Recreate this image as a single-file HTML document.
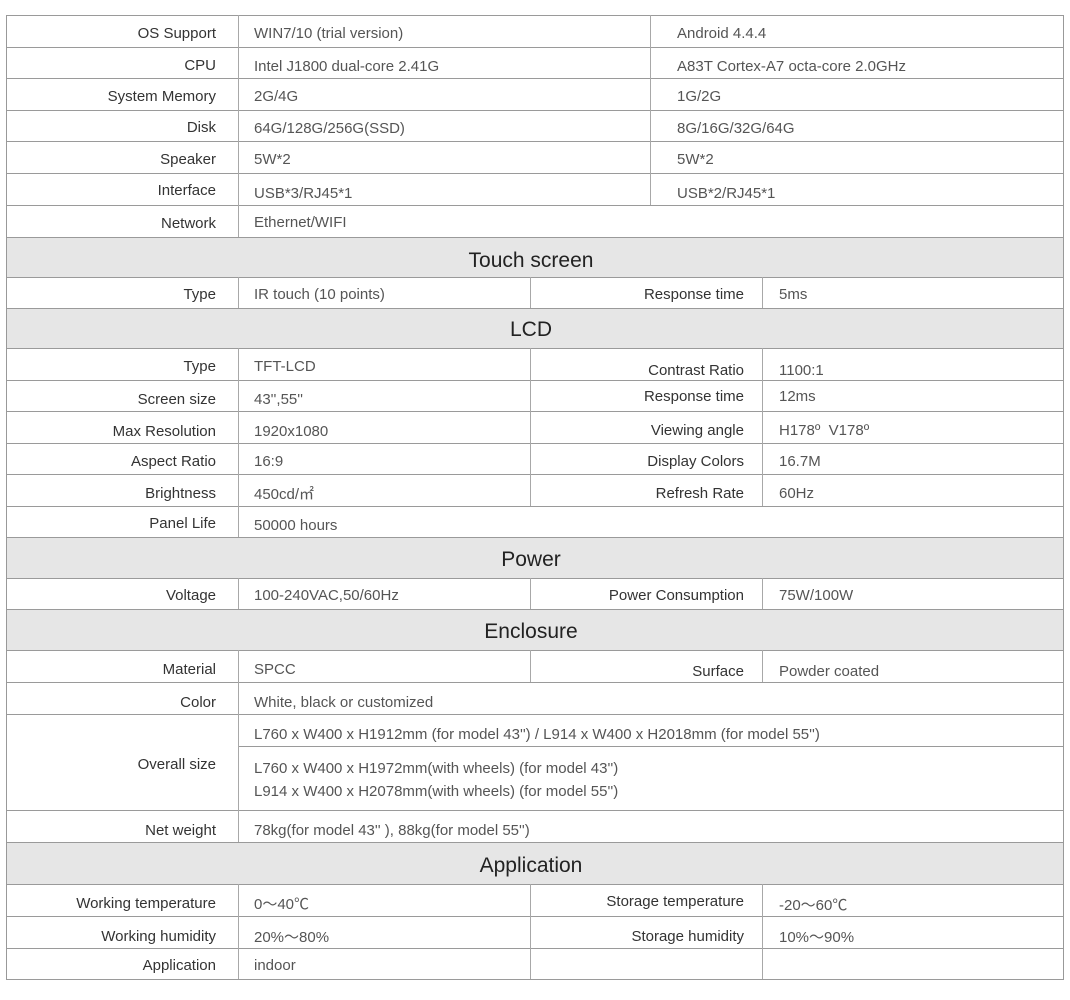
<!DOCTYPE html>
<html><head><meta charset="utf-8"><style>
body{margin:0;background:#fff;width:1070px;height:1000px;position:relative;overflow:hidden;font-family:"Liberation Sans","Noto Sans CJK SC",sans-serif}
.h{position:absolute;height:1px;background:#9a9a9a}
.v{position:absolute;width:1px;background:#a8a8a8}
.bg{position:absolute;left:6px;width:1057px;background:#e6e6e6}
.l,.r,.c{position:absolute;font-size:15px;white-space:nowrap;display:flex;align-items:center;box-sizing:border-box}
.l,.r{padding-top:4px}
.l{justify-content:flex-end;color:#333}
.r{color:#555}
.c{justify-content:center;color:#222;font-size:21px;left:6px;width:1050px;padding-top:3px}
</style></head><body>
<div class="bg" style="top:237px;height:40px"></div>
<div class="bg" style="top:308px;height:40px"></div>
<div class="bg" style="top:537px;height:41px"></div>
<div class="bg" style="top:609px;height:41px"></div>
<div class="bg" style="top:842px;height:42px"></div>

<div class="h" style="left:6px;width:1058px;top:15px"></div>
<div class="h" style="left:6px;width:1058px;top:47px"></div>
<div class="h" style="left:6px;width:1058px;top:78px"></div>
<div class="h" style="left:6px;width:1058px;top:110px"></div>
<div class="h" style="left:6px;width:1058px;top:141px"></div>
<div class="h" style="left:6px;width:1058px;top:173px"></div>
<div class="h" style="left:6px;width:1058px;top:205px"></div>
<div class="h" style="left:6px;width:1058px;top:237px"></div>
<div class="h" style="left:6px;width:1058px;top:277px"></div>
<div class="h" style="left:6px;width:1058px;top:308px"></div>
<div class="h" style="left:6px;width:1058px;top:348px"></div>
<div class="h" style="left:6px;width:1058px;top:380px"></div>
<div class="h" style="left:6px;width:1058px;top:411px"></div>
<div class="h" style="left:6px;width:1058px;top:443px"></div>
<div class="h" style="left:6px;width:1058px;top:474px"></div>
<div class="h" style="left:6px;width:1058px;top:506px"></div>
<div class="h" style="left:6px;width:1058px;top:537px"></div>
<div class="h" style="left:6px;width:1058px;top:578px"></div>
<div class="h" style="left:6px;width:1058px;top:609px"></div>
<div class="h" style="left:6px;width:1058px;top:650px"></div>
<div class="h" style="left:6px;width:1058px;top:682px"></div>
<div class="h" style="left:6px;width:1058px;top:714px"></div>
<div class="h" style="left:238px;width:826px;top:746px"></div>
<div class="h" style="left:6px;width:1058px;top:810px"></div>
<div class="h" style="left:6px;width:1058px;top:842px"></div>
<div class="h" style="left:6px;width:1058px;top:884px"></div>
<div class="h" style="left:6px;width:1058px;top:916px"></div>
<div class="h" style="left:6px;width:1058px;top:948px"></div>
<div class="h" style="left:6px;width:1058px;top:979px"></div>

<div class="v" style="left:6px;top:15px;height:965px;background:#999"></div>
<div class="v" style="left:1063px;top:15px;height:965px;background:#999"></div>
<div class="v" style="left:238px;top:15px;height:222px"></div>
<div class="v" style="left:238px;top:277px;height:31px"></div>
<div class="v" style="left:238px;top:348px;height:189px"></div>
<div class="v" style="left:238px;top:578px;height:31px"></div>
<div class="v" style="left:238px;top:650px;height:192px"></div>
<div class="v" style="left:238px;top:884px;height:95px"></div>
<div class="v" style="left:650px;top:15px;height:190px"></div>
<div class="v" style="left:530px;top:277px;height:31px"></div>
<div class="v" style="left:762px;top:277px;height:31px"></div>
<div class="v" style="left:530px;top:348px;height:158px"></div>
<div class="v" style="left:762px;top:348px;height:158px"></div>
<div class="v" style="left:530px;top:578px;height:31px"></div>
<div class="v" style="left:762px;top:578px;height:31px"></div>
<div class="v" style="left:530px;top:650px;height:32px"></div>
<div class="v" style="left:762px;top:650px;height:32px"></div>
<div class="v" style="left:530px;top:884px;height:95px"></div>
<div class="v" style="left:762px;top:884px;height:95px"></div>

<div class="l" style="left:6px;width:210px;top:15px;height:32px">OS Support</div>
<div class="r" style="left:254px;top:15px;height:32px">WIN7/10 (trial version)</div>
<div class="r" style="left:677px;top:15px;height:32px">Android 4.4.4</div>
<div class="l" style="left:6px;width:210px;top:47px;height:32px">CPU</div>
<div class="r" style="left:254px;top:48px;height:32px">Intel J1800 dual-core 2.41G</div>
<div class="r" style="left:677px;top:48px;height:32px">A83T Cortex-A7 octa-core 2.0GHz</div>
<div class="l" style="left:6px;width:210px;top:78px;height:32px">System Memory</div>
<div class="r" style="left:254px;top:78px;height:32px">2G/4G</div>
<div class="r" style="left:677px;top:78px;height:32px">1G/2G</div>
<div class="l" style="left:6px;width:210px;top:110px;height:31px">Disk</div>
<div class="r" style="left:254px;top:111px;height:31px">64G/128G/256G(SSD)</div>
<div class="r" style="left:677px;top:111px;height:31px">8G/16G/32G/64G</div>
<div class="l" style="left:6px;width:210px;top:141px;height:32px">Speaker</div>
<div class="r" style="left:254px;top:141px;height:32px">5W*2</div>
<div class="r" style="left:677px;top:141px;height:32px">5W*2</div>
<div class="l" style="left:6px;width:210px;top:172px;height:32px">Interface</div>
<div class="r" style="left:254px;top:175px;height:32px">USB*3/RJ45*1</div>
<div class="r" style="left:677px;top:175px;height:32px">USB*2/RJ45*1</div>
<div class="l" style="left:6px;width:210px;top:205px;height:32px">Network</div>
<div class="r" style="left:254px;top:204px;height:32px">Ethernet/WIFI</div>

<div class="c" style="top:239px;height:40px">Touch screen</div>
<div class="l" style="left:6px;width:210px;top:277px;height:31px">Type</div>
<div class="r" style="left:254px;top:277px;height:31px">IR touch (10 points)</div>
<div class="l" style="left:530px;width:214px;top:277px;height:31px">Response time</div>
<div class="r" style="left:779px;top:277px;height:31px">5ms</div>

<div class="c" style="top:308px;height:40px">LCD</div>
<div class="l" style="left:6px;width:210px;top:348px;height:32px">Type</div>
<div class="r" style="left:254px;top:348px;height:32px">TFT-LCD</div>
<div class="l" style="left:530px;width:214px;top:352px;height:32px">Contrast Ratio</div>
<div class="r" style="left:779px;top:352px;height:32px">1100:1</div>
<div class="l" style="left:6px;width:210px;top:382px;height:31px">Screen size</div>
<div class="r" style="left:254px;top:382px;height:31px">43'',55''</div>
<div class="l" style="left:530px;width:214px;top:379px;height:31px">Response time</div>
<div class="r" style="left:779px;top:379px;height:31px">12ms</div>
<div class="l" style="left:6px;width:210px;top:414px;height:31px">Max Resolution</div>
<div class="r" style="left:254px;top:414px;height:31px">1920x1080</div>
<div class="l" style="left:530px;width:214px;top:413px;height:31px">Viewing angle</div>
<div class="r" style="left:779px;top:413px;height:31px">H178º&nbsp;&nbsp;V178º</div>
<div class="l" style="left:6px;width:210px;top:444px;height:31px">Aspect Ratio</div>
<div class="r" style="left:254px;top:444px;height:31px">16:9</div>
<div class="l" style="left:530px;width:214px;top:444px;height:31px">Display Colors</div>
<div class="r" style="left:779px;top:444px;height:31px">16.7M</div>
<div class="l" style="left:6px;width:210px;top:476px;height:31px">Brightness</div>
<div class="r" style="left:254px;top:476px;height:31px">450cd/㎡</div>
<div class="l" style="left:530px;width:214px;top:476px;height:31px">Refresh Rate</div>
<div class="r" style="left:779px;top:476px;height:31px">60Hz</div>
<div class="l" style="left:6px;width:210px;top:506px;height:31px">Panel Life</div>
<div class="r" style="left:254px;top:508px;height:31px">50000 hours</div>

<div class="c" style="top:538px;height:41px">Power</div>
<div class="l" style="left:6px;width:210px;top:578px;height:31px">Voltage</div>
<div class="r" style="left:254px;top:578px;height:31px">100-240VAC,50/60Hz</div>
<div class="l" style="left:530px;width:214px;top:578px;height:31px">Power Consumption</div>
<div class="r" style="left:779px;top:578px;height:31px">75W/100W</div>

<div class="c" style="top:610px;height:41px">Enclosure</div>
<div class="l" style="left:6px;width:210px;top:651px;height:32px">Material</div>
<div class="r" style="left:254px;top:651px;height:32px">SPCC</div>
<div class="l" style="left:530px;width:214px;top:653px;height:32px">Surface</div>
<div class="r" style="left:779px;top:653px;height:32px">Powder coated</div>
<div class="l" style="left:6px;width:210px;top:684px;height:32px">Color</div>
<div class="r" style="left:254px;top:684px;height:32px">White, black or customized</div>
<div class="r" style="left:254px;top:716px;height:32px">L760 x W400 x H1912mm (for model 43'') / L914 x W400 x H2018mm (for model 55'')</div>
<div class="l" style="left:6px;width:210px;top:746px;height:32px">Overall size</div>
<div class="r" style="left:254px;top:751px;height:30px">L760 x W400 x H1972mm(with wheels) (for model 43'')</div>
<div class="r" style="left:254px;top:774px;height:30px">L914 x W400 x H2078mm(with wheels) (for model 55'')</div>
<div class="l" style="left:6px;width:210px;top:812px;height:32px">Net weight</div>
<div class="r" style="left:254px;top:812px;height:32px">78kg(for model 43'' ), 88kg(for model 55'')</div>

<div class="c" style="top:843px;height:42px">Application</div>
<div class="l" style="left:6px;width:210px;top:885px;height:32px">Working temperature</div>
<div class="r" style="left:254px;top:885px;height:32px">0～40℃</div>
<div class="l" style="left:530px;width:214px;top:883px;height:32px">Storage temperature</div>
<div class="r" style="left:779px;top:886px;height:32px">-20～60℃</div>
<div class="l" style="left:6px;width:210px;top:918px;height:32px">Working humidity</div>
<div class="r" style="left:254px;top:918px;height:32px">20%～80%</div>
<div class="l" style="left:530px;width:214px;top:918px;height:32px">Storage humidity</div>
<div class="r" style="left:779px;top:918px;height:32px">10%～90%</div>
<div class="l" style="left:6px;width:210px;top:948px;height:31px">Application</div>
<div class="r" style="left:254px;top:948px;height:31px">indoor</div>
</body></html>
